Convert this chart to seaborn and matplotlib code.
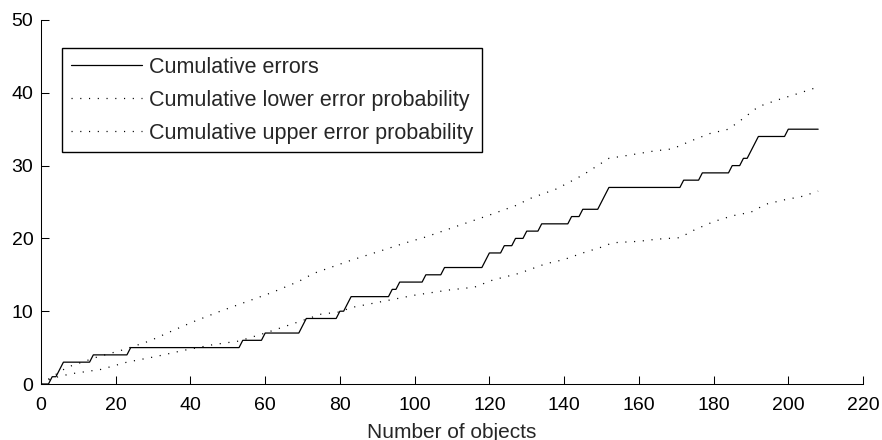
import numpy as np
import pandas as pd
import matplotlib
matplotlib.use("Agg")
import matplotlib.pyplot as plt
import seaborn as sns

# ---- data ----
err_x = [0, 2, 3, 4, 6, 13, 14, 23, 24, 53, 54, 59, 60, 69, 71, 79, 80, 81, 83,
         93, 94, 95, 96, 102, 103, 107, 108, 118, 120, 123, 124, 126, 127, 129,
         130, 133, 134, 141, 142, 144, 145, 149, 152, 171, 172, 176, 177, 184,
         185, 187, 188, 189, 192, 199, 200, 208]
err_y = [0, 0, 1, 1, 3, 3, 4, 4, 5, 5, 6, 6, 7, 7, 9, 9, 10, 10, 12,
         12, 13, 13, 14, 14, 15, 15, 16, 16, 18, 18, 19, 19, 20, 20,
         21, 21, 22, 22, 23, 23, 24, 24, 27, 27, 28, 28, 29, 29,
         30, 30, 31, 31, 34, 34, 35, 35]

low_x = [0, 3, 8, 16, 23, 31, 38, 46, 53, 60, 67, 75, 80, 83, 91, 100, 109, 116,
         121, 128, 135, 140, 145, 150, 153, 160, 165, 171, 175, 180, 185, 190,
         194, 199, 204, 208]
low_y = [0, 0.8, 1.4, 2.0, 3.0, 3.8, 4.6, 5.4, 5.9, 7.0, 8.2, 9.6, 9.9, 10.5,
         11.3, 12.2, 12.9, 13.3, 14.3, 15.2, 16.5, 17.1, 18.0, 18.8, 19.4, 19.6,
         19.9, 20.1, 21.2, 22.3, 23.1, 23.6, 24.7, 25.3, 25.8, 26.5]

up_x = [0, 3, 7, 15, 22, 29, 36, 41, 48, 55, 62, 69, 73, 83, 91, 97, 103, 112,
        120, 127, 131, 138, 145, 152, 157, 164, 169, 174, 179, 184, 188, 192,
        197, 202, 208]
up_y = [0, 1.0, 2.3, 3.7, 4.7, 5.9, 7.5, 8.6, 10.0, 11.3, 12.6, 14.1, 15.2,
        17.0, 18.3, 19.3, 20.2, 21.8, 23.2, 24.5, 25.5, 26.8, 28.7, 31.0, 31.4,
        32.0, 32.3, 33.4, 34.4, 35.0, 36.5, 38.1, 39.0, 39.8, 40.8]

x_ticks = [0, 20, 40, 60, 80, 100, 120, 140, 160, 180, 200, 220]
y_ticks = [0, 10, 20, 30, 40, 50]
labels = ["Cumulative errors",
          "Cumulative lower error probability",
          "Cumulative upper error probability"]
x_label = "Number of objects"

# ---- style ----
sns.set_style("ticks")
plt.rcParams["font.family"] = ["Liberation Sans", "DejaVu Sans"]

fig = plt.figure(figsize=(8.82, 4.40), dpi=100)
ax = fig.add_axes([41 / 882, 56 / 440, 822 / 882, 364 / 440])

df_err = pd.DataFrame({"x": err_x, "y": err_y})
df_low = pd.DataFrame({"x": low_x, "y": low_y})
df_up = pd.DataFrame({"x": up_x, "y": up_y})

dot = (0, (0.9, 6.1))
sns.lineplot(data=df_err, x="x", y="y", ax=ax, color="black", lw=0.9,
             label=labels[0], sort=False, estimator=None)
sns.lineplot(data=df_low, x="x", y="y", ax=ax, color="black", lw=0.9,
             linestyle=dot, label=labels[1], sort=False, estimator=None)
sns.lineplot(data=df_up, x="x", y="y", ax=ax, color="black", lw=0.9,
             linestyle=dot, label=labels[2], sort=False, estimator=None)

ax.set_xlim(0, 220)
ax.set_ylim(0, 50)
ax.set_xticks(x_ticks)
ax.set_yticks(y_ticks)
ax.set_xlabel(x_label, fontsize=15, labelpad=6.5)
ax.set_ylabel("")
ax.tick_params(direction="in", length=6, width=0.75, labelsize=14,
               colors="black")
ax.tick_params(axis="x", pad=9)
ax.tick_params(axis="y", pad=5.5)
for s in ["top", "right"]:
    ax.spines[s].set_visible(False)
for s in ["left", "bottom"]:
    ax.spines[s].set_linewidth(0.75)
    ax.spines[s].set_color("black")

leg = ax.legend(loc="upper left", bbox_to_anchor=(21 / 822, 336 / 364),
                borderaxespad=0, fontsize=15.5, frameon=True, fancybox=False,
                framealpha=1, edgecolor="black", handlelength=3.3,
                handletextpad=0.33, labelspacing=0.56, borderpad=0.4)
leg.get_frame().set_linewidth(1.0)

fig.savefig("out.png", dpi=100)
